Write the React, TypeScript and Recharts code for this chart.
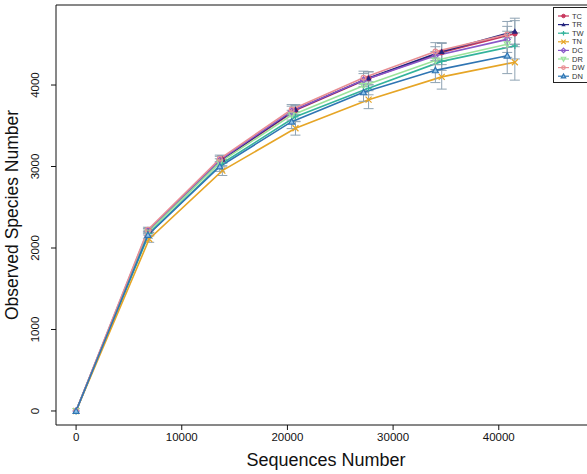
import React from "react";
import {
  LineChart,
  Line,
  XAxis,
  YAxis,
  ErrorBar,
  ReferenceLine,
} from "recharts";

// sequencing depths (two sample groups were rarefied to slightly different steps)
const depthsD = [0, 6800, 13600, 20400, 27200, 34000, 40800];
const depthsT = [0, 6920, 13840, 20760, 27680, 34600, 41520];

const xTicks = [0, 10000, 20000, 30000, 40000];
const yTicks = [0, 1000, 2000, 3000, 4000];

const tcValues = [0, 2215, 3085, 3690, 4080, 4400, 4630];
const trValues = [0, 2220, 3090, 3700, 4085, 4410, 4660];
const twValues = [0, 2180, 3040, 3610, 3960, 4290, 4480];
const tnValues = [0, 2110, 2950, 3470, 3820, 4100, 4280];
const dcValues = [0, 2210, 3080, 3680, 4060, 4360, 4560];
const drValues = [0, 2190, 3050, 3630, 3990, 4300, 4500];
const dwValues = [0, 2225, 3095, 3700, 4090, 4410, 4620];
const dnValues = [0, 2160, 3000, 3550, 3910, 4180, 4360];

const smallErr = [0, 30, 45, 60, 80, 110, 160];
const wideErr = [0, 40, 60, 85, 110, 150, 220];

const X_DOMAIN: [number, number] = [-1900, 49200];
const Y_DOMAIN: [number, number] = [-172, 4982];

type Shape = "circle" | "triFill" | "plus" | "cross" | "diamond" | "triDown" | "ring" | "triOpen";

interface SeriesDef {
  name: string;
  color: string;
  shape: Shape;
  depths: number[];
  values: number[];
  errors: number[];
}

const series: SeriesDef[] = [
  { name: "TC", color: "#c8385e", shape: "circle", depths: depthsT, values: tcValues, errors: smallErr },
  { name: "TR", color: "#25257f", shape: "triFill", depths: depthsT, values: trValues, errors: smallErr },
  { name: "TW", color: "#33b39c", shape: "plus", depths: depthsT, values: twValues, errors: smallErr },
  { name: "TN", color: "#e6a526", shape: "cross", depths: depthsT, values: tnValues, errors: wideErr },
  { name: "DC", color: "#8a58c8", shape: "diamond", depths: depthsD, values: dcValues, errors: smallErr },
  { name: "DR", color: "#9be39b", shape: "triDown", depths: depthsD, values: drValues, errors: smallErr },
  { name: "DW", color: "#e88f94", shape: "ring", depths: depthsD, values: dwValues, errors: smallErr },
  { name: "DN", color: "#2f75b3", shape: "triOpen", depths: depthsD, values: dnValues, errors: wideErr },
];

function Marker({ x, y, shape, color, r = 3 }: { x: number; y: number; shape: Shape; color: string; r?: number }) {
  switch (shape) {
    case "circle":
      return <circle cx={x} cy={y} r={r * 0.8} fill={color} stroke={color} />;
    case "ring":
      return <circle cx={x} cy={y} r={r * 0.8} fill="none" stroke={color} strokeWidth={1.2} />;
    case "triFill":
      return <polygon points={`${x},${y - r} ${x - r},${y + r * 0.8} ${x + r},${y + r * 0.8}`} fill={color} />;
    case "triOpen":
      return (
        <polygon
          points={`${x},${y - r} ${x - r},${y + r * 0.8} ${x + r},${y + r * 0.8}`}
          fill="#8fc3ea"
          stroke={color}
          strokeWidth={1.2}
        />
      );
    case "triDown":
      return (
        <polygon
          points={`${x},${y + r} ${x - r},${y - r * 0.8} ${x + r},${y - r * 0.8}`}
          fill="none"
          stroke={color}
          strokeWidth={1.2}
        />
      );
    case "diamond":
      return (
        <polygon
          points={`${x},${y - r} ${x + r},${y} ${x},${y + r} ${x - r},${y}`}
          fill="none"
          stroke={color}
          strokeWidth={1.2}
        />
      );
    case "plus":
      return (
        <path d={`M${x - r},${y}H${x + r}M${x},${y - r}V${y + r}`} stroke={color} strokeWidth={1.2} />
      );
    case "cross":
    default:
      return (
        <path
          d={`M${x - r},${y - r}L${x + r},${y + r}M${x - r},${y + r}L${x + r},${y - r}`}
          stroke={color}
          strokeWidth={1.2}
        />
      );
  }
}

// legend box sits in the top-right corner, partly past the page edge
function LegendBox() {
  return (
    <div
      style={{
        position: "absolute",
        left: 553,
        top: 7,
        width: 40,
        height: 76,
        border: "1px solid #222",
        background: "#fff",
        boxSizing: "border-box",
      }}
    >
      <svg width={40} height={74} style={{ display: "block" }}>
        {series.map((s, i) => {
          const y = 8 + i * 8.6;
          return (
            <g key={s.name}>
              <line x1={4} x2={15} y1={y} y2={y} stroke={s.color} strokeWidth={1.2} />
              <Marker x={9.5} y={y} shape={s.shape} color={s.color} r={2.2} />
              <text x={18} y={y + 2.6} fontSize={7.5} fill="#333" fontFamily="Liberation Sans, Arial, sans-serif">
                {s.name}
              </text>
            </g>
          );
        })}
      </svg>
    </div>
  );
}

const axisFont = { fontSize: 11.5, fill: "#111", fontFamily: "Liberation Sans, Arial, sans-serif" };

function YTick({ x, y, payload }: any) {
  return (
    <text x={x - 2} y={y} transform={`rotate(-90 ${x - 2} ${y})`} textAnchor="middle" {...axisFont}>
      {payload.value}
    </text>
  );
}

export default function App() {
  return (
    <div
      style={{
        position: "absolute",
        left: 0,
        top: 0,
        width: 587,
        height: 474,
        overflow: "hidden",
        background: "#fff",
      }}
    >
      <LineChart
        width={620}
        height={474}
        margin={{ top: 5, right: 24, bottom: 0, left: 0 }}
        style={{ fontFamily: "Liberation Sans, Arial, sans-serif" }}
      >
        <XAxis
          type="number"
          dataKey="x"
          domain={X_DOMAIN}
          ticks={xTicks}
          allowDataOverflow
          height={49}
          tick={axisFont}
          tickSize={5}
          tickMargin={3}
          stroke="#111"
          label={{ value: "Sequences Number", position: "insideBottom", offset: 8, fontSize: 18, fill: "#111" }}
        />
        <YAxis
          type="number"
          domain={Y_DOMAIN}
          ticks={yTicks}
          allowDataOverflow
          width={56}
          tick={<YTick />}
          tickSize={5}
          tickMargin={10}
          stroke="#111"
          label={{
            value: "Observed Species Number",
            angle: -90,
            position: "insideLeft",
            offset: 12,
            style: { textAnchor: "middle" },
            fontSize: 17.5,
            fill: "#111",
          }}
        />
        {/* top border of the plot frame */}
        <ReferenceLine y={Y_DOMAIN[1]} stroke="#111" strokeWidth={1} ifOverflow="extendDomain" />
        {series.map((s) => (
          <Line
            key={s.name}
            data={s.depths.map((d, i) => ({ x: d, y: s.values[i], err: s.errors[i] }))}
            dataKey="y"
            name={s.name}
            stroke={s.color}
            strokeWidth={1.6}
            isAnimationActive={false}
            dot={(p: any) => (
              <g key={`${s.name}-${p.index}`}>
                <Marker x={p.cx} y={p.cy} shape={s.shape} color={s.color} />
              </g>
            )}
          >
            <ErrorBar dataKey="err" direction="y" width={5} stroke="#8fa3b3" strokeWidth={1} />
          </Line>
        ))}
      </LineChart>
      <LegendBox />
    </div>
  );
}
